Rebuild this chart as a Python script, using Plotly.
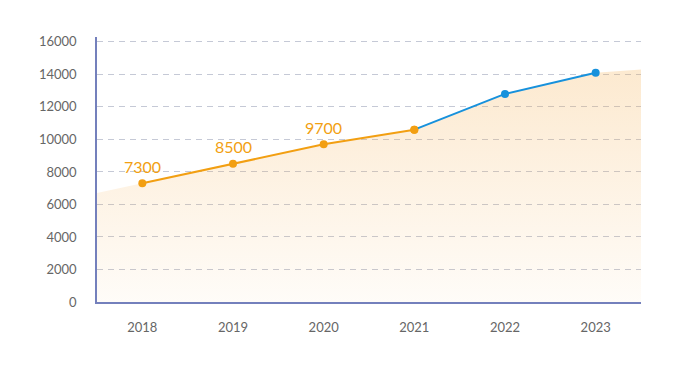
import plotly.graph_objects as go

years = ["2018", "2019", "2020", "2021", "2022", "2023"]
actual_years = ["2018", "2019", "2020", "2021"]
actual_values = [7300, 8500, 9700, 10600]
forecast_years = ["2021", "2022", "2023"]
forecast_values = [10600, 12800, 14100]
labeled_values = [7300, 8500, 9700]
# background band: value at left plot edge, at each year, and at right plot edge
band_edge_left = 6700
band_values = [7300, 8500, 9700, 10600, 12800, 14100]
band_edge_right = 14300
y_ticks = [0, 2000, 4000, 6000, 8000, 10000, 12000, 14000, 16000]

ORANGE = "#F29F12"
BLUE = "#1791DC"
AXIS = "#7480BC"
GRID = "#C5C9D6"
FONT = "Lato, Noto Sans, sans-serif"

idx = {y: i for i, y in enumerate(years)}
x_lo, x_hi = -0.5, len(years) - 0.5

fig = go.Figure()

fig.add_trace(go.Scatter(
    x=[x_lo] + list(range(len(years))) + [x_hi],
    y=[band_edge_left] + band_values + [band_edge_right],
    mode="lines", line=dict(width=0), fill="tozeroy",
    fillgradient=dict(type="vertical",
                      colorscale=[[0, "rgba(245,175,80,0.04)"], [1, "rgba(245,175,80,0.27)"]]),
    hoverinfo="skip", showlegend=False,
))

fig.add_trace(go.Scatter(
    x=[idx[y] for y in actual_years], y=actual_values, mode="lines+markers",
    line=dict(color=ORANGE, width=2), marker=dict(color=ORANGE, size=8),
    showlegend=False,
))
fig.add_trace(go.Scatter(
    x=[idx[y] for y in forecast_years], y=forecast_values, mode="lines",
    line=dict(color=BLUE, width=2), showlegend=False,
))
fig.add_trace(go.Scatter(
    x=[idx[y] for y in forecast_years[1:]], y=forecast_values[1:], mode="markers",
    marker=dict(color=BLUE, size=8), showlegend=False,
))
fig.add_trace(go.Scatter(
    x=[idx[actual_years[-1]]], y=[actual_values[-1]], mode="markers",
    marker=dict(color=ORANGE, size=8), showlegend=False,
))

for y, v in zip(actual_years[:3], labeled_values):
    fig.add_annotation(
        x=idx[y], y=v, text=str(v), showarrow=False,
        yanchor="middle", yshift=17,
        font=dict(color=ORANGE, size=16, family=FONT),
    )

fig.update_layout(
    width=683, height=373,
    margin=dict(l=89, r=50, t=29, b=79),
    paper_bgcolor="white", plot_bgcolor="white",
    font=dict(family=FONT, color="#666666", size=13),
    xaxis=dict(
        range=[x_lo, x_hi], tickmode="array",
        tickvals=list(range(len(years))), ticktext=years,
        showgrid=False, zeroline=False,
        showline=True, linecolor=AXIS, linewidth=1.5,
        ticks="outside", ticklen=13, tickcolor="rgba(0,0,0,0)",
        tickfont=dict(size=13, color="#666666"),
        automargin=False,
    ),
    yaxis=dict(
        range=[0, 16300], tickmode="array",
        tickvals=y_ticks, ticktext=[str(t) for t in y_ticks],
        showgrid=True, gridcolor=GRID, griddash="6px,5px", gridwidth=1,
        zeroline=False,
        showline=True, linecolor=AXIS, linewidth=1.5,
        ticks="outside", ticklen=16, tickcolor="rgba(0,0,0,0)",
        tickfont=dict(size=13, color="#666666"),
        automargin=False,
    ),
)

fig.write_html("out.html")
